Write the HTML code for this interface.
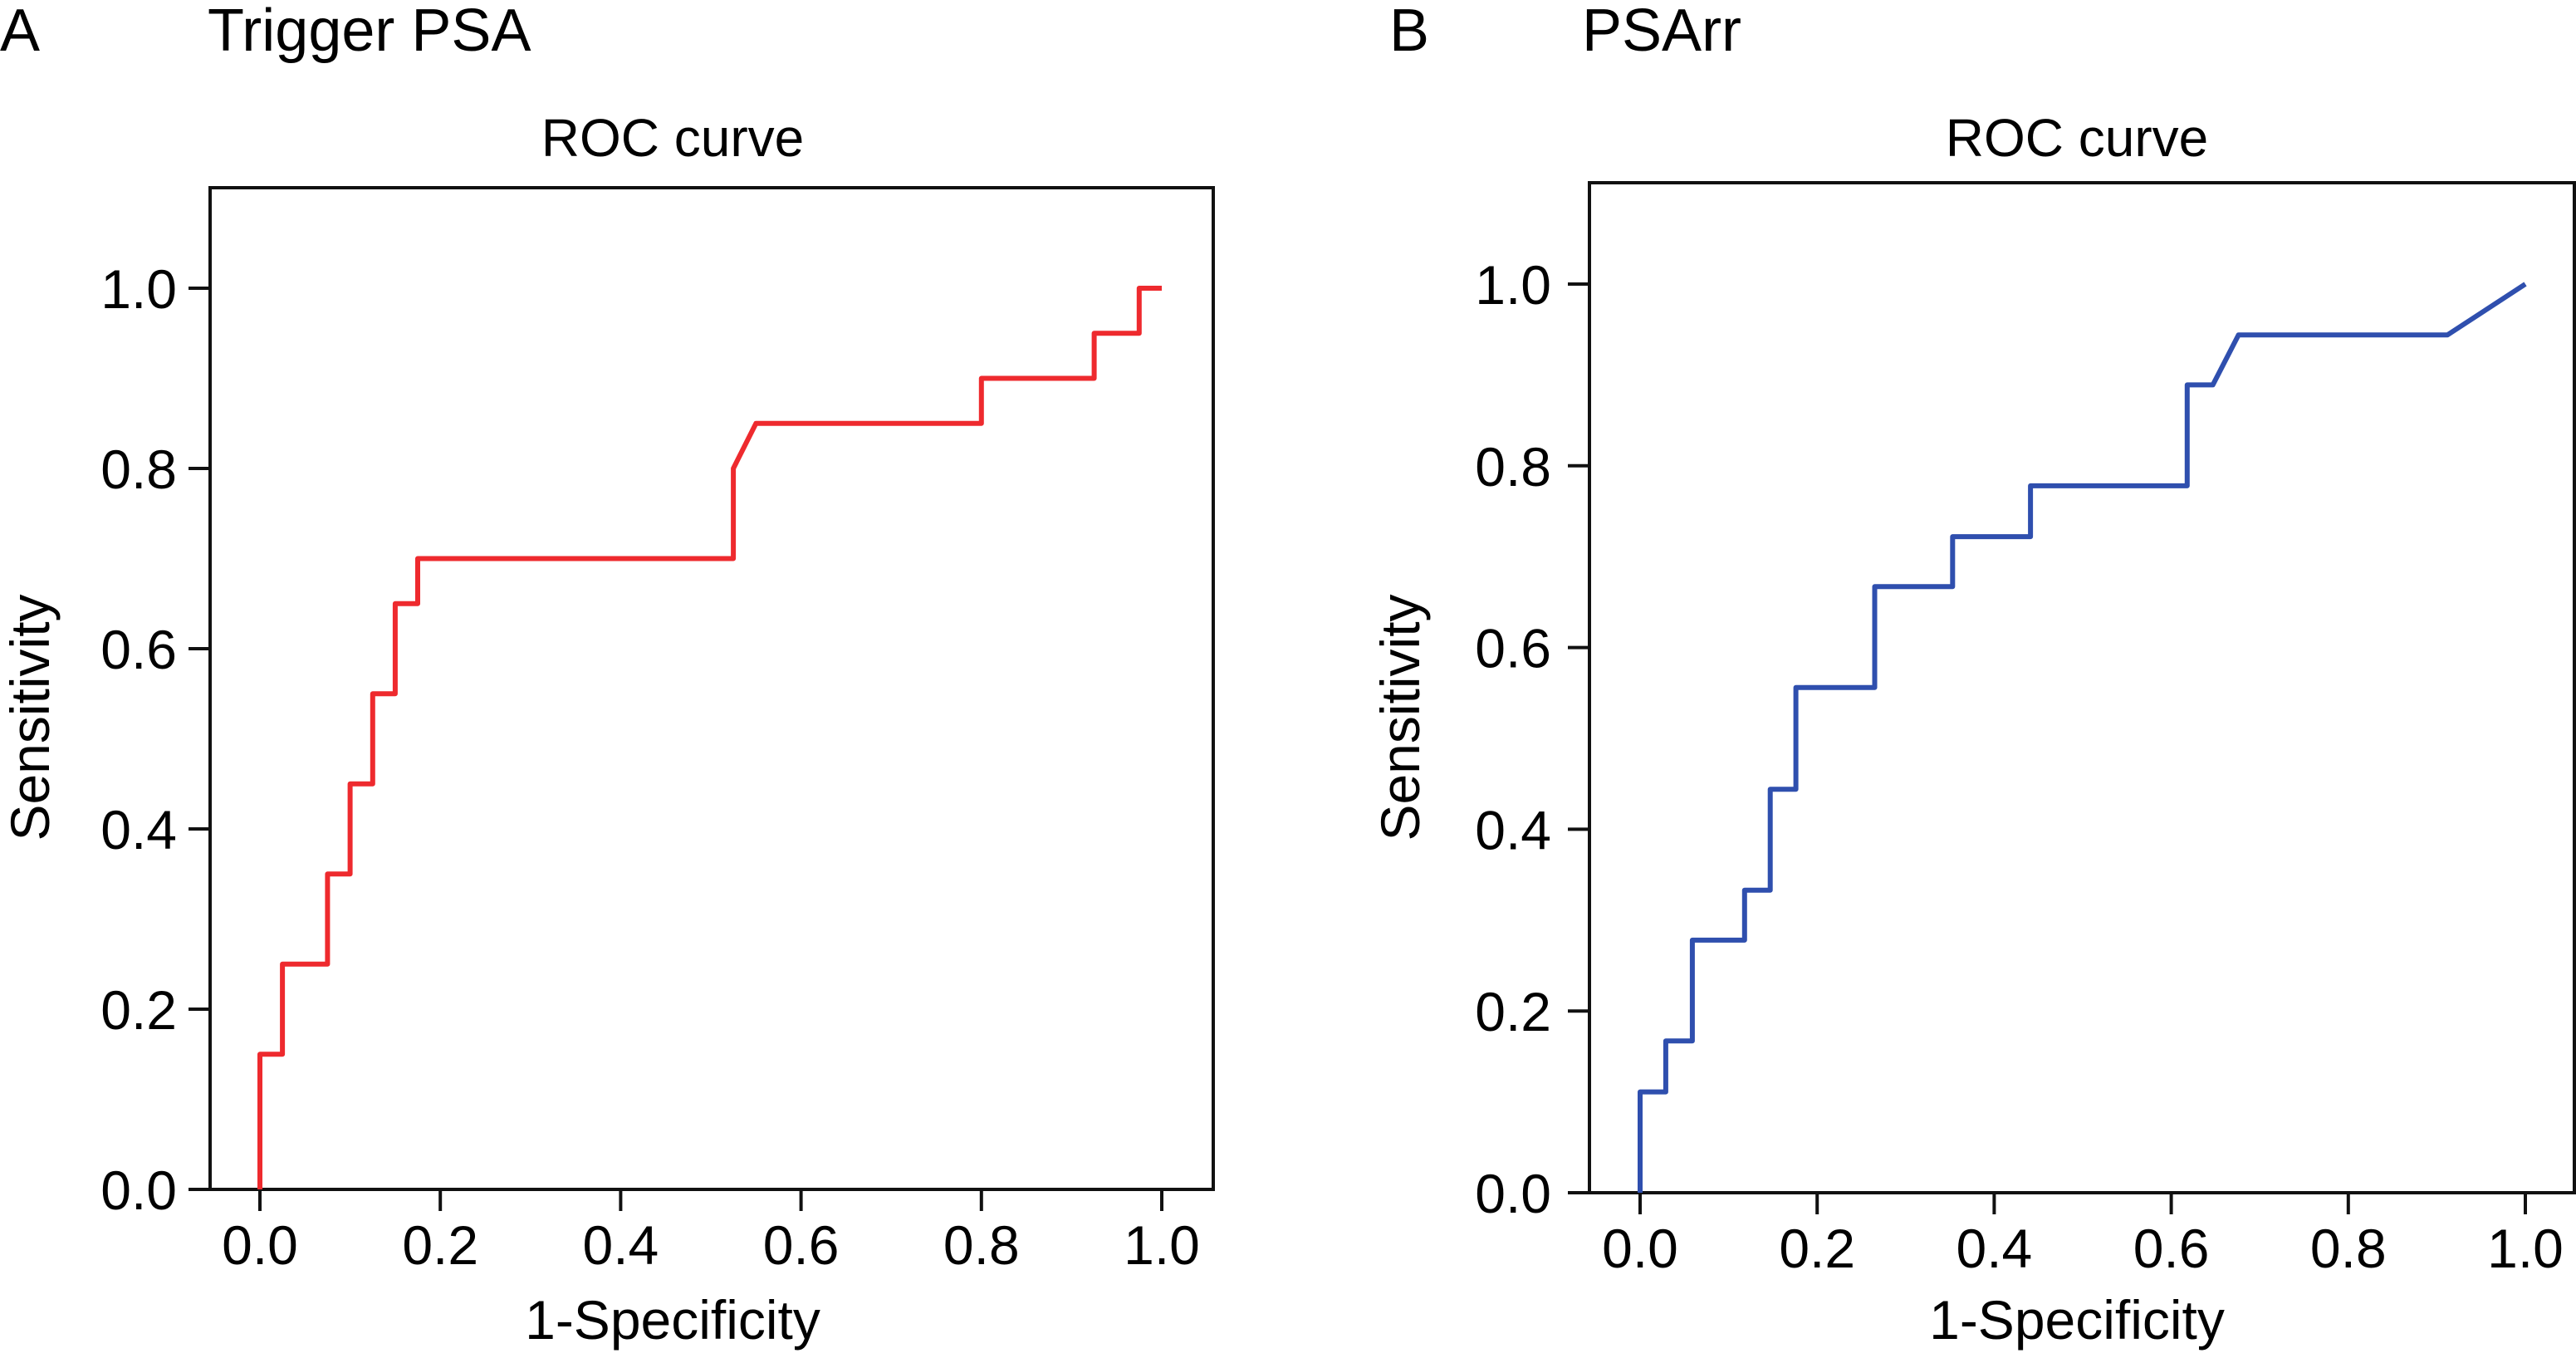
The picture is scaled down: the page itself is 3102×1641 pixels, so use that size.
<!DOCTYPE html>
<html><head><meta charset="utf-8"><style>
body{margin:0;background:#fff}
svg{display:block;font-family:"Liberation Sans",Arial,sans-serif}
</style></head><body>
<svg id="chart" width="3102" height="1641" viewBox="0 0 3102 1641" xmlns="http://www.w3.org/2000/svg">
<text x="0" y="61" font-size="72">A</text>
<text x="250" y="61" font-size="72">Trigger PSA</text>
<text x="1673" y="61" font-size="72">B</text>
<text x="1905" y="61" font-size="72">PSArr</text>
</svg>
<script>
const ticks = [0, 0.2, 0.4, 0.6, 0.8, 1.0];
const tickLabels = ["0.0", "0.2", "0.4", "0.6", "0.8", "1.0"];
const aFpr = [0, 0, 0.025, 0.025, 0.075, 0.075, 0.1, 0.1, 0.125, 0.125, 0.15, 0.15, 0.175, 0.175, 0.525, 0.525, 0.55, 0.8, 0.8, 0.925, 0.925, 0.975, 0.975, 1.0];
const aTpr = [0, 0.15, 0.15, 0.25, 0.25, 0.35, 0.35, 0.45, 0.45, 0.55, 0.55, 0.65, 0.65, 0.70, 0.70, 0.80, 0.85, 0.85, 0.90, 0.90, 0.95, 0.95, 1.0, 1.0];
const bFpr = [0, 0, 0.029, 0.029, 0.059, 0.059, 0.118, 0.118, 0.147, 0.147, 0.176, 0.176, 0.265, 0.265, 0.353, 0.353, 0.441, 0.441, 0.618, 0.618, 0.647, 0.676, 0.912, 1.0];
const bTpr = [0, 0.111, 0.111, 0.167, 0.167, 0.278, 0.278, 0.333, 0.333, 0.444, 0.444, 0.556, 0.556, 0.667, 0.667, 0.722, 0.722, 0.778, 0.778, 0.889, 0.889, 0.944, 0.944, 1.0];

const NS = "http://www.w3.org/2000/svg";
const svg = document.getElementById('chart');
function mk(tag, attrs, parent){const e=document.createElementNS(NS,tag);for(const k in attrs)e.setAttribute(k,attrs[k]);(parent||svg).appendChild(e);return e;}

function panel(id, cfg, xs, ys, color){
  const g = mk('g', {});
  
  
  const sx = v => cfg.x0 + v * (cfg.x1 - cfg.x0);
  const sy = v => cfg.y0 - v * (cfg.y0 - cfg.y1);
  const frame = mk('rect', {x: cfg.left, y: cfg.top, width: cfg.right - cfg.left, height: cfg.bottom - cfg.top, fill: 'none', stroke: '#111', 'stroke-width': 4}, g);
  
  
  ticks.forEach((t, i) => {
    const xt = mk('line', {x1: sx(t), x2: sx(t), y1: cfg.bottom, y2: cfg.bottom + 26, stroke: '#111', 'stroke-width': 4}, g);
    
    
    const xl = mk('text', {x: sx(t), y: cfg.bottom + 90, 'font-size': 66, 'text-anchor': 'middle'}, g);
    xl.textContent = tickLabels[i];
    
    
    const yt = mk('line', {x1: cfg.left - 26, x2: cfg.left, y1: sy(t), y2: sy(t), stroke: '#111', 'stroke-width': 4}, g);
    
    
    const yl = mk('text', {x: cfg.labelRight, y: sy(t) + 24, 'font-size': 66, 'text-anchor': 'end'}, g);
    yl.textContent = tickLabels[i];
    
    
  });
  const title = mk('text', {x: cfg.cx, y: 188, 'font-size': 64, 'text-anchor': 'middle'}, g);
  title.textContent = 'ROC curve';
  
  
  const xt = mk('text', {x: cfg.cx, y: 1612, 'font-size': 66, 'text-anchor': 'middle'}, g);
  xt.textContent = '1-Specificity';
  
  
  const yt = mk('text', {x: 0, y: 0, 'font-size': 66, 'text-anchor': 'middle', transform: 'translate(' + (cfg.sensX + 24) + ',864) rotate(-90)'}, g);
  yt.textContent = 'Sensitivity';
  
  
  const pts = xs.map((x, i) => sx(x).toFixed(1) + ',' + sy(ys[i]).toFixed(1)).join(' ');
  const line = mk('polyline', {points: pts, fill: 'none', stroke: color, 'stroke-width': 6, 'stroke-linejoin': 'round'}, g);
  
  
}

panel('panel-a', {left: 253, right: 1461, top: 226, bottom: 1432, x0: 313, x1: 1399, y0: 1432, y1: 347, labelRight: 213, cx: 810, sensX: 35}, aFpr, aTpr, '#ee2a2e');
panel('panel-b', {left: 1914, right: 3100, top: 220, bottom: 1436, x0: 1975, x1: 3041, y0: 1436, y1: 342, labelRight: 1868, cx: 2501, sensX: 1685}, bFpr, bTpr, '#2f4fae');
</script>
</body></html>
